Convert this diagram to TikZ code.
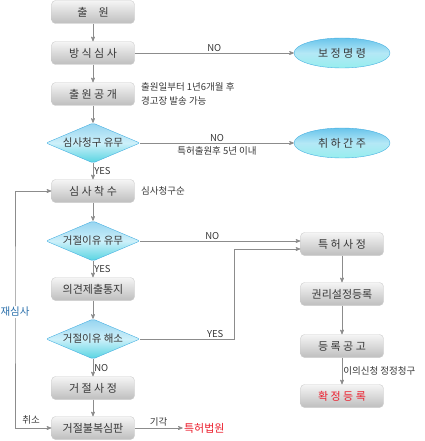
\documentclass[tikz,border=0pt]{standalone}
\usepackage{fontspec}
\setmainfont{Noto Sans CJK KR}
\usetikzlibrary{arrows,shapes,positioning}
\definecolor{txtgray}{RGB}{55,55,55}
\definecolor{txtred}{RGB}{235,30,45}
\definecolor{txtblue}{RGB}{40,110,170}
\definecolor{linegray}{RGB}{140,140,140}
\definecolor{boxtop}{RGB}{245,245,245}
\definecolor{boxbot}{RGB}{190,190,190}
\definecolor{boxline}{RGB}{205,205,205}
\definecolor{diatop}{RGB}{150,212,240}
\definecolor{diamid}{RGB}{205,240,250}
\definecolor{diabot}{RGB}{85,212,225}
\definecolor{dialine}{RGB}{70,175,225}
\definecolor{elltop}{RGB}{105,196,235}
\definecolor{ellmid}{RGB}{180,232,246}
\definecolor{ellbot}{RGB}{150,238,238}

\begin{document}
\begin{tikzpicture}[->,>=stealth',x=1pt,y=-1pt,line width=0.7pt,color=linegray,
                    node distance=1cm]
  \tikzstyle{box}=[rectangle,rounded corners=4pt,
                                    minimum width=83pt,
                                    minimum height=23pt,
                                    top color=boxtop,bottom color=boxbot,
                                    draw=boxline,thin,
                                    text=txtgray,
                                    font=\fontsize{11}{12}\selectfont]
  \tikzstyle{redbox}=[box,text=txtred]
  \tikzstyle{decision}=[diamond,aspect=2.35,inner sep=1pt,
                                    minimum width=94pt,
                                    minimum height=40pt,
                                    rounded corners=2pt,
                                    top color=diatop,bottom color=diabot,middle color=diamid,
                                    draw=dialine,thin,
                                    text=txtgray,
                                    font=\fontsize{10.5}{12}\selectfont]
  \tikzstyle{terminal}=[ellipse,
                                    minimum width=96pt,
                                    minimum height=30pt,
                                    top color=elltop,bottom color=ellbot,middle color=ellmid,
                                    draw=dialine,thin,
                                    text=txtgray,
                                    font=\fontsize{11}{12}\selectfont]
  \tikzstyle{note}=[text=txtgray,inner sep=1pt,font=\fontsize{9.5}{14}\selectfont]
  \useasboundingbox (0,0) rectangle (424,441);
  %Nodos izquierda
  \node[box]      (chul)     at (93,12)  {출\hspace{1em}원};
  \node[box]      (bangsik)  at (93,53)  {방 식 심 사};
  \node[box]      (gonggae)  at (93,94)  {출 원 공 개};
  \node[decision] (cheonggu) at (93,143) {심사청구 유무};
  \node[box]      (chaksu)   at (93,191) {심 사 착 수};
  \node[decision] (yumu)     at (93,241) {거절이유 유무};
  \node[box]      (uigyeon)  at (93,289) {의견제출통지};
  \node[decision] (haeso)    at (93,339) {거절이유 해소};
  \node[box]      (sajeong)  at (93,388) {거 절 사 정};
  \node[box]      (bulbok)   at (93,428) {거절불복심판};
  \node[note,text=txtred,font=\fontsize{11}{12}\selectfont,right=48pt of bulbok] (court) {특허법원};
  %Nodos derecha
  \node[terminal] (bojeong)  at (342,53)  {보 정 명 령};
  \node[terminal] (chiha)    at (342,143) {취 하 간 주};
  \node[box]      (teukheo)  at (342,244) {특 허 사 정};
  \node[box]      (gwonri)   at (342,294) {권리설정등록};
  \node[box]      (gonggo)   at (342,346) {등 록 공 고};
  \node[redbox]   (hwakjeong) at (342,396) {확 정 등 록};
  %Notas
  \node[note,right=5pt of gonggae,align=left] (gongnote) {출원일부터 1년6개월 후\\경고장 발송 가능};
  \node[note,right=5pt of chaksu] (chaknote) {심사청구순};
  \coordinate (loop) at (15,300);
  \coordinate (yesturn) at (234,249);
    \path (chul) edge (bangsik)
          (bangsik) edge (gonggae)
          (gonggae) edge (cheonggu)
          (cheonggu) edge node[note,right] {YES} (chaksu)
          (chaksu) edge (yumu)
          (yumu) edge node[note,right] {YES} (uigyeon)
          (uigyeon) edge (haeso)
          (haeso) edge node[note,right] {NO} (sajeong)
          (sajeong) edge (bulbok)
          (bulbok) edge node[note,above] {기각} (court)
          (bangsik) edge node[note,above] {NO} (bojeong)
          (cheonggu) edge node[note,above] {NO} node[note,below=2pt] {특허출원후 5년 이내} (chiha)
          (teukheo) edge (gwonri)
          (gwonri) edge (gonggo)
          (gonggo) edge node[note,right] {이의신청 정정청구} (hwakjeong);
  \draw (yumu.east) -- node[note,above,pos=0.45] {NO} (yumu.east -| teukheo.west);
  \draw (haeso.east) -| node[note,above,pos=0.4] {YES} (yesturn) -- (yesturn -| teukheo.west);
  \draw[<->] (bulbok.west) -| (loop) |- (chaksu.west);
  \node[note,text=txtblue,fill=white,font=\fontsize{10.5}{12}\selectfont] (jaesimsa) at (15,312) {재심사};
  \node[note] (chwiso) at (31,420) {취소};
\end{tikzpicture}
\end{document}
